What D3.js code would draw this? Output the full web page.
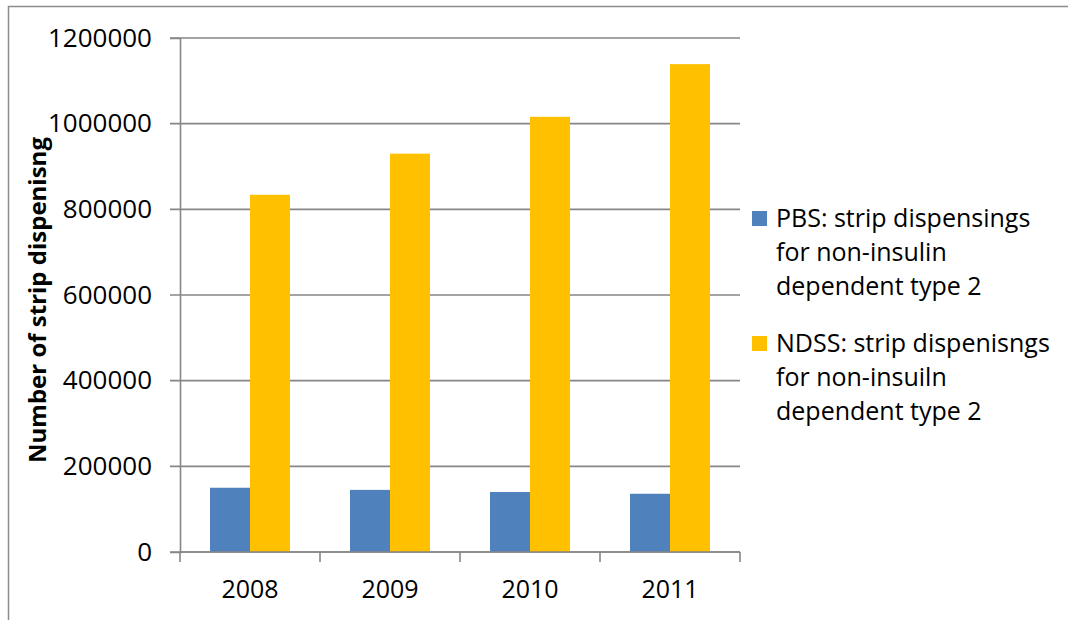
<!DOCTYPE html>
<html lang="en">
<head>
<meta charset="UTF-8">
<title>Strip dispensings</title>
<style>
    body { margin: 0; background: #fff; }
    svg text { font-family: "Open Sans", "DejaVu Sans", sans-serif; fill: #000; }
</style>
<script src="https://cdn.jsdelivr.net/npm/d3@7/dist/d3.min.js"></script>
</head>
<body>
<svg id="chart"></svg>
<script>
// data
var years = ["2008", "2009", "2010", "2011"];
var pbsValues = [150000, 145000, 140000, 136000];
var ndssValues = [834000, 930000, 1016000, 1139000];
var seriesNames = ["PBS", "NDSS"];
var legendLines = [
    ["PBS: strip dispensings", "for non-insulin", "dependent type 2"],
    ["NDSS: strip dispenisngs", "for non-insuiln", "dependent type 2"]
];
var yTicks = [0, 200000, 400000, 600000, 800000, 1000000, 1200000];
var colors = ["#4F81BD", "#FFC000"];

var svgWidth = 1068, svgHeight = 620;
var plotLeft = 180, plotRight = 740, plotTop = 38, plotBottom = 552;

var svg = d3.select("#chart")
    .attr("width", svgWidth)
    .attr("height", svgHeight);

// outer frame (only top and left edges are visible)
svg.append("path")
    .attr("d", "M8.5," + svgHeight + "V6.5H" + svgWidth)
    .attr("fill", "none")
    .attr("stroke", "#8c8c8c")
    .attr("stroke-width", 1.5);

var p = 60 / 140;
var x0 = d3.scaleBand().domain(years).range([plotLeft, plotRight]).paddingInner(p).paddingOuter(p / 2);
var x1 = d3.scaleBand().domain(seriesNames).range([0, x0.bandwidth()]);
var y = d3.scaleLinear().domain([0, 1200000]).range([plotBottom, plotTop]);

var table = years.map(function(yr, i) {
    return {year: yr, values: [pbsValues[i], ndssValues[i]]};
});

// gridlines
svg.append("g")
    .selectAll("line")
    .data(yTicks)
    .enter().append("line")
    .attr("x1", plotLeft - 10)
    .attr("x2", plotRight)
    .attr("y1", function(d) { return y(d); })
    .attr("y2", function(d) { return y(d); })
    .attr("stroke", "#868686")
    .attr("stroke-width", 1.6);

// y axis
var yAxis = svg.append("g")
    .attr("transform", "translate(" + plotLeft + ",0)")
    .call(d3.axisLeft(y).tickValues(yTicks).tickFormat(d3.format("d")).tickSize(10).tickPadding(18));
yAxis.select(".domain").attr("stroke", "#868686").attr("stroke-width", 1.6);
yAxis.selectAll(".tick line").attr("stroke", "none");
yAxis.selectAll("text").attr("font-size", "26px").attr("fill", "#000");

// bars
var groups = svg.append("g")
    .selectAll("g")
    .data(table)
    .enter().append("g")
    .attr("transform", function(d) { return "translate(" + x0(d.year) + ",0)"; });

groups.selectAll("rect")
    .data(function(d) { return d.values.map(function(v, j) { return {name: seriesNames[j], value: v, j: j}; }); })
    .enter().append("rect")
    .attr("x", function(d) { return x1(d.name); })
    .attr("y", function(d) { return y(d.value); })
    .attr("width", x1.bandwidth())
    .attr("height", function(d) { return y(0) - y(d.value); })
    .attr("fill", function(d) { return colors[d.j]; });

// x axis with ticks at category boundaries
var xAxis = svg.append("g")
    .attr("transform", "translate(0," + plotBottom + ")");
xAxis.append("line")
    .attr("x1", plotLeft).attr("x2", plotRight)
    .attr("stroke", "#868686").attr("stroke-width", 1.6);
var step = x0.step();
xAxis.selectAll("line.tk")
    .data(d3.range(years.length + 1))
    .enter().append("line")
    .attr("class", "tk")
    .attr("x1", function(i) { return plotLeft + i * step; })
    .attr("x2", function(i) { return plotLeft + i * step; })
    .attr("y1", 0).attr("y2", 10)
    .attr("stroke", "#868686").attr("stroke-width", 1.6);
xAxis.selectAll("text")
    .data(years)
    .enter().append("text")
    .attr("x", function(d) { return x0(d) + x0.bandwidth() / 2; })
    .attr("y", 46)
    .attr("text-anchor", "middle")
    .attr("font-size", "25px")
    .text(function(d) { return d; });

// y axis title
svg.append("text")
    .attr("transform", "translate(46,300) rotate(-90)")
    .attr("text-anchor", "middle")
    .attr("font-size", "24px")
    .attr("font-weight", "bold")
    .text("Number of strip dispenisng");

// legend
var legend = svg.append("g")
    .selectAll("g")
    .data(legendLines)
    .enter().append("g")
    .attr("transform", function(d, i) { return "translate(752," + (211 + i * 125) + ")"; });

legend.append("rect")
    .attr("width", 15)
    .attr("height", 15)
    .attr("fill", function(d, i) { return colors[i]; });

legend.selectAll("text")
    .data(function(d) { return d; })
    .enter().append("text")
    .attr("x", 24)
    .attr("y", function(d, k) { return 16 + k * 34; })
    .attr("font-size", "25px")
    .text(function(d) { return d; });
</script>
</body>
</html>
